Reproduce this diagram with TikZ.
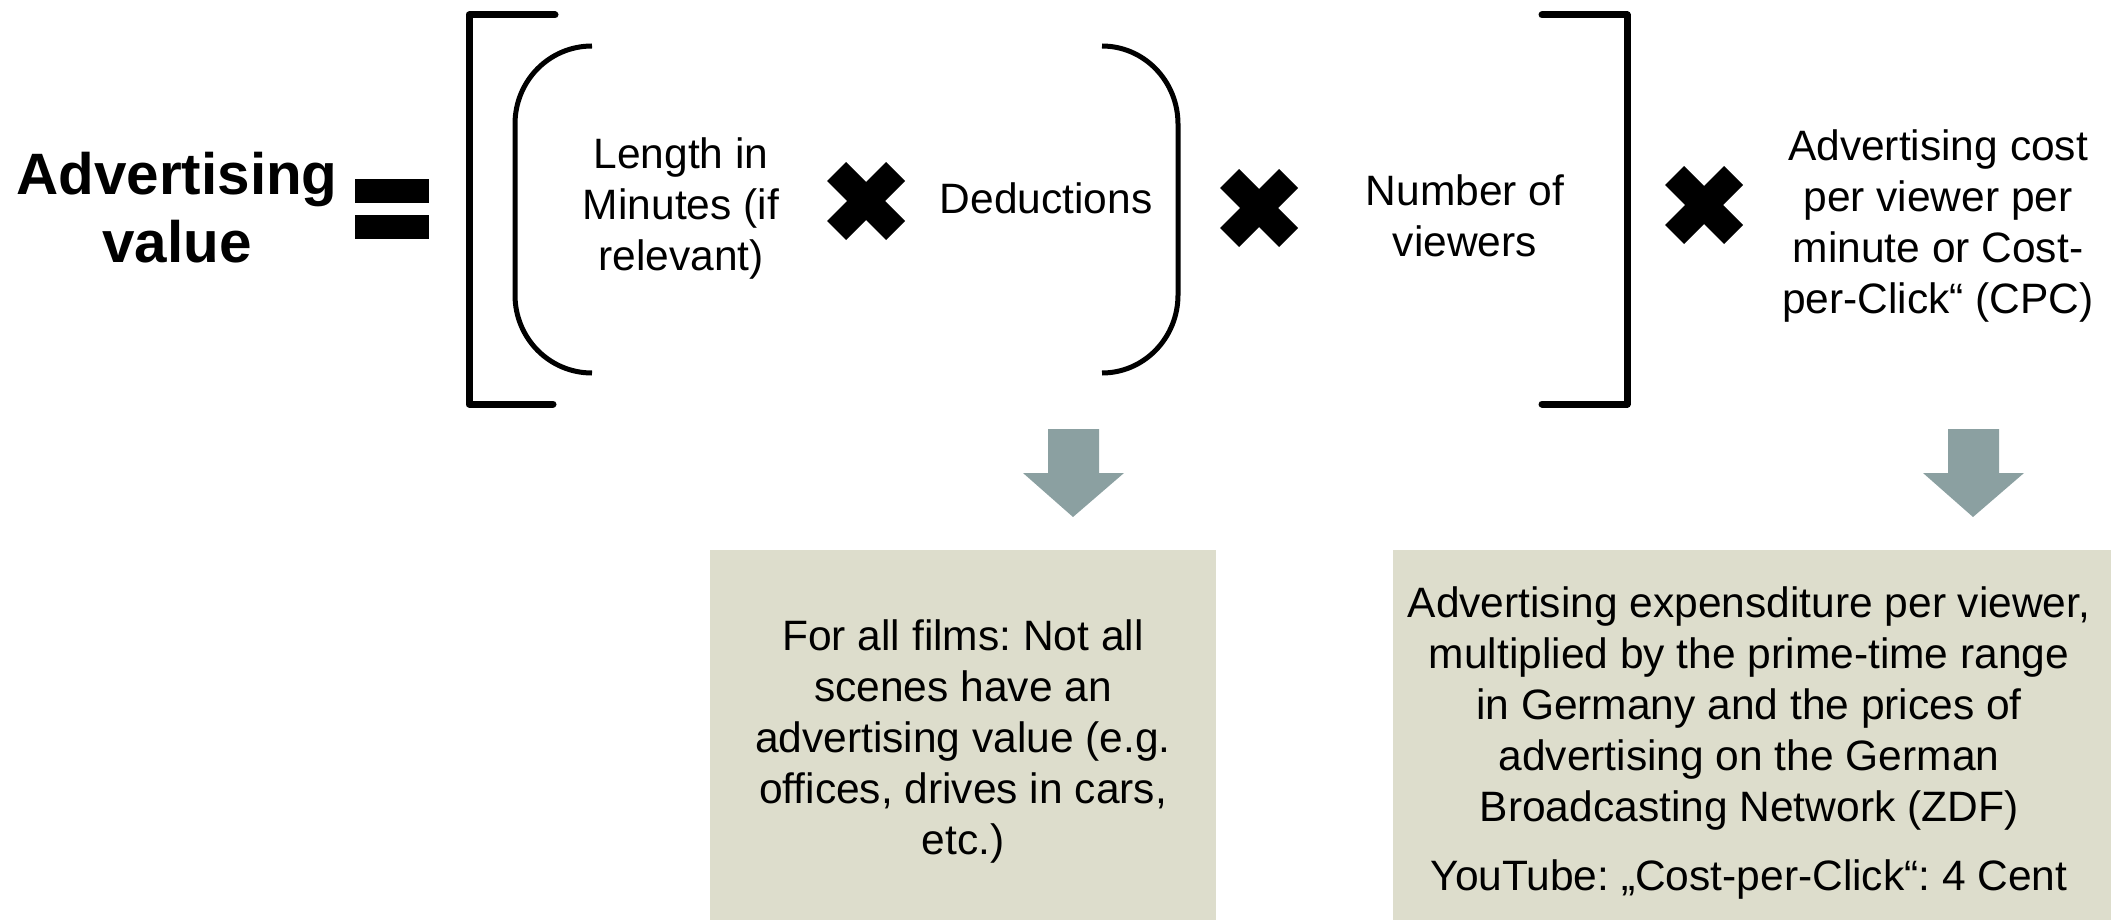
\documentclass[tikz,border=0pt]{standalone}
\usepackage{fontspec}
\setmainfont{Liberation Sans}
\frenchspacing
\definecolor{arrowgray}{RGB}{139,160,161}
\definecolor{boxfill}{RGB}{221,221,204}
\tikzset{
  txt/.style={align=center, inner sep=0pt, font=\fontsize{21.25}{25.5}\selectfont\frenchspacing},
  bigtxt/.style={align=center, inner sep=0pt, font=\fontsize{29.2}{34}\selectfont\bfseries},
  bracketline/.style={line width=3.5pt, line cap=round, line join=round},
  parenline/.style={line width=2.5pt},
  infobox/.style={fill=boxfill, draw=none, inner sep=0pt},
  blockarrow/.style={fill=arrowgray, draw=none},
  mult/.style={fill=black, draw=none}
}
\newcommand{\timesmark}[2]{%
  \fill[mult, shift={(#1,#2)}] (-20,-39) -- (0,-19) -- (20,-39) -- (39,-20) -- (19,0) -- (39,20)
    -- (20,39) -- (0,19) -- (-20,39) -- (-39,20) -- (-19,0) -- (-39,-20) -- cycle;}
\newcommand{\downblock}[1]{%
  \fill[blockarrow, shift={(#1,0)}] (-25,429) -- (26,429) -- (26,473) -- (51,473) -- (0,517)
    -- (-50,473) -- (-25,473) -- cycle;}
\begin{document}
\begin{tikzpicture}[x=0.5pt, y=-0.5pt]
\useasboundingbox (0,0) rectangle (2114,920);

% left-hand side
\node[bigtxt] (lhs) at (177,208) {Advertising\\value};
\fill (355,179) rectangle (429,203);
\fill (355,215) rectangle (429,239);

% square brackets
\draw[bracketline] (555,15) -- (469,15) -- (469,404) -- (553,404);
\draw[bracketline] (1542,15) -- (1627,15) -- (1627,404) -- (1542,404);

% parentheses
\draw[parenline] (592,46) .. controls (549,46) and (515,81) .. (515,124) -- (515,295)
  .. controls (515,338) and (549,373) .. (592,373);
\draw[parenline] (1102,46) .. controls (1144,46) and (1178,81) .. (1178,124) -- (1178,295)
  .. controls (1178,338) and (1144,373) .. (1102,373);

% factors
\node[txt] (len) at (681,208) {Length in\\Minutes (if\\relevant)};
\timesmark{866}{201}
\node[txt] (ded) at (1046,198) {Deductions};
\timesmark{1259}{208}
\node[txt] (num) at (1465,216) {Number of\\viewers};
\timesmark{1704}{205}
\node[txt] (cost) at (1938,226) {Advertising cost\\per viewer per\\minute or Cost-\\per-Click“ (CPC)};

% arrows
\downblock{1073}
\downblock{1973}

% boxes
\node[infobox, minimum width=253pt, minimum height=185pt] (box1) at (963,735) {};
\node[infobox, minimum width=359pt, minimum height=185pt] (box2) at (1752,735) {};
\node[txt] (t1) at (963,741) {For all films: Not all\\scenes have an\\advertising value (e.g.\\offices, drives in cars,\\etc.)};
\node[txt] (t2) at (1749,709) {Advertising expensditure per viewer,\\multiplied by the prime-time range\\in Germany and the prices of\\advertising on the German\\Broadcasting Network (ZDF)};
\node[txt] (t3) at (1749,880) {YouTube: „Cost-per-Click“: 4 Cent};
\end{tikzpicture}
\end{document}
